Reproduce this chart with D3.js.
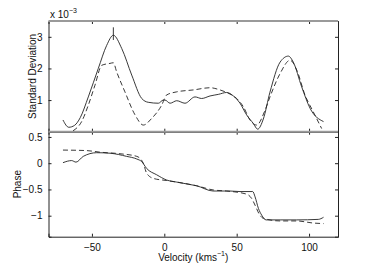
<!DOCTYPE html>
<html>
<head>
<meta charset="utf-8">
<script src="https://cdn.jsdelivr.net/npm/d3@7"></script>
<style>
  body { margin: 0; background: #fff; }
  text { font-family: "Liberation Sans", Arial, sans-serif; }
</style>
</head>
<body>
<script>
// velocity values (km/s) and curves
var sdSolidV = [-70, -66, -62, -58, -52.5, -45.6, -39.8, -35.2, -29.4, -22.5, -15.6, -11.1, -4.1, -0.7, 0.5, 4, 8.6, 14.3, 21.2, 25.8, 31.6, 37.3, 43.1, 47.7, 52.3, 56.9, 61.5, 64.5, 68.4, 73, 80, 85.7, 89.1, 94.9, 100.7, 110];
var sdSolid  = [0.37, 0.14, 0.2, 0.45, 1.1, 2.0, 2.73, 3.05, 2.63, 1.79, 1.05, 0.93, 0.9, 1.0, 1.0, 0.9, 0.98, 0.9, 1.1, 1.05, 1.13, 1.18, 1.24, 1.13, 0.9, 0.53, 0.26, 0.08, 0.4, 1.25, 2.2, 2.39, 2.2, 1.42, 0.74, 0.32];

var sdDashV = [-63, -57.1, -52.5, -47.9, -43.2, -37.5, -35.2, -32.9, -27.2, -20.2, -14.5, -8.7, -1.8, 1.6, 8.6, 20, 31.6, 38.5, 43.1, 50, 54.6, 59.2, 63.8, 69.6, 73, 80, 86.9, 91.5, 97.2, 102.9, 108.7];
var sdDash  = [0.03, 0.32, 0.84, 1.47, 2.1, 2.16, 2.18, 1.89, 1.26, 0.53, 0.21, 0.42, 0.84, 1.16, 1.26, 1.32, 1.39, 1.32, 1.24, 1.05, 0.79, 0.37, 0.21, 0.68, 1.1, 1.84, 2.26, 1.95, 1.16, 0.63, 0.1];

var phSolidV = [-70, -64, -61, -56, -46.7, -37.5, -26, -19, -15.6, -12.2, -5.3, 1.6, 8.6, 16.6, 22.3, 33.8, 45.3, 52.3, 61.1, 62.7, 65, 67.3, 70.3, 80, 91.5, 106.4, 110];
var phSolid  = [0.01, 0.05, 0.02, 0.13, 0.2, 0.19, 0.13, 0.08, 0.03, -0.1, -0.22, -0.32, -0.36, -0.4, -0.43, -0.53, -0.53, -0.54, -0.54, -0.64, -0.86, -0.99, -1.08, -1.08, -1.08, -1.07, -1.03];

var phDashV = [-70, -53.6, -44.4, -30.6, -19, -14.5, -12.2, -7.5, 1.6, 10.8, 22.3, 33.8, 43, 56.9, 60.3, 62.7, 65.6, 68.4, 80, 91.5, 103, 110];
var phDash  = [0.25, 0.24, 0.21, 0.18, 0.13, 0, -0.19, -0.29, -0.33, -0.37, -0.43, -0.51, -0.53, -0.59, -0.67, -0.8, -0.97, -1.05, -1.1, -1.1, -1.14, -1.15];

// error bar at the main peak
var errV = -35.2, errLo = 2.9, errHi = 3.3;

var xTicks = [-50, 0, 50, 100];
var sdTicks = [1, 2, 3];
var phTicks = [0.5, 0, -0.5, -1];

var W = 374, H = 267;
var left = 48.5, right = 338;
var top1 = 21, bot1 = 131.7, bot2 = 236.7;

var svg = d3.select("body").append("svg")
    .attr("width", W)
    .attr("height", H);

var x = d3.scaleLinear().domain([-80, 120]).range([left, right]);
var y1 = d3.scaleLinear().domain([0, 3.5]).range([bot1, top1]);
var y2 = d3.scaleLinear().domain([-1.4, 0.6]).range([bot2, bot1]);

var fmt = function(d) { return d3.format("")(d).replace("-", "\u2212"); };

function panel(y, yTicks, showX) {
  var g = svg.append("g");
  g.append("g")
      .attr("transform", "translate(" + left + ",0)")
      .call(d3.axisLeft(y).tickValues(yTicks).tickSize(-3).tickPadding(6).tickFormat(fmt));
  g.append("g")
      .attr("transform", "translate(" + right + ",0)")
      .call(d3.axisRight(y).tickValues(yTicks).tickSize(-3).tickFormat(""));
  var yb = y.range()[0], yt = y.range()[1];
  g.append("g")
      .attr("transform", "translate(0," + yb + ")")
      .call(d3.axisBottom(x).tickValues(xTicks).tickSize(-3).tickPadding(7).tickFormat(showX ? fmt : ""));
  g.append("g")
      .attr("transform", "translate(0," + yt + ")")
      .call(d3.axisTop(x).tickValues(xTicks).tickSize(-3).tickFormat(""));
  g.selectAll(".domain").attr("stroke", "#222").attr("stroke-width", 1);
  g.selectAll(".tick line").attr("stroke", "#222");
  g.selectAll(".tick text").attr("font-size", 10).attr("fill", "#111")
      .style("font-family", "'Liberation Sans', Arial, sans-serif");
  return g;
}

panel(y1, sdTicks, false);
panel(y2, phTicks, true);

// grey frame lines as in the figure
[top1, bot1].forEach(function(yy) {
  svg.append("line")
      .attr("x1", left).attr("x2", right)
      .attr("y1", yy).attr("y2", yy)
      .attr("stroke", "#9a9a9a")
      .attr("stroke-width", 2);
});

function curve(vs, ds, y, dashed) {
  var line = d3.line()
      .x(function(d, i) { return x(vs[i]); })
      .y(function(d) { return y(d); })
      .curve(d3.curveMonotoneX);
  svg.append("path")
      .attr("d", line(ds))
      .attr("fill", "none")
      .attr("stroke", "#222")
      .attr("stroke-width", 0.9)
      .attr("stroke-dasharray", dashed ? "5,3" : null);
}

curve(sdSolidV, sdSolid, y1, false);
curve(sdDashV, sdDash, y1, true);
curve(phSolidV, phSolid, y2, false);
curve(phDashV, phDash, y2, true);

svg.append("line")
    .attr("x1", x(errV)).attr("x2", x(errV))
    .attr("y1", y1(errLo)).attr("y2", y1(errHi))
    .attr("stroke", "#222")
    .attr("stroke-width", 0.9);

// labels
var sc = svg.append("text")
    .attr("x", 50).attr("y", 17.5)
    .attr("font-size", 10)
    .attr("fill", "#111");
sc.append("tspan").text("x 10");
sc.append("tspan").attr("font-size", 7).attr("dy", -5).text("\u22123");

svg.append("text")
    .attr("transform", "translate(35.5," + ((top1 + bot1) / 2) + ") rotate(-90)")
    .attr("text-anchor", "middle")
    .attr("font-size", 10)
    .attr("fill", "#111")
    .text("Standard Deviation");

svg.append("text")
    .attr("transform", "translate(20.5," + ((bot1 + bot2) / 2) + ") rotate(-90)")
    .attr("text-anchor", "middle")
    .attr("font-size", 10)
    .attr("fill", "#111")
    .text("Phase");

var xl = svg.append("text")
    .attr("x", (left + right) / 2).attr("y", 261)
    .attr("text-anchor", "middle")
    .attr("font-size", 10)
    .attr("fill", "#111");
xl.append("tspan").text("Velocity (kms");
xl.append("tspan").attr("font-size", 7).attr("dy", -5).text("\u22121");
xl.append("tspan").attr("dy", 5).text(")");
</script>
</body>
</html>
